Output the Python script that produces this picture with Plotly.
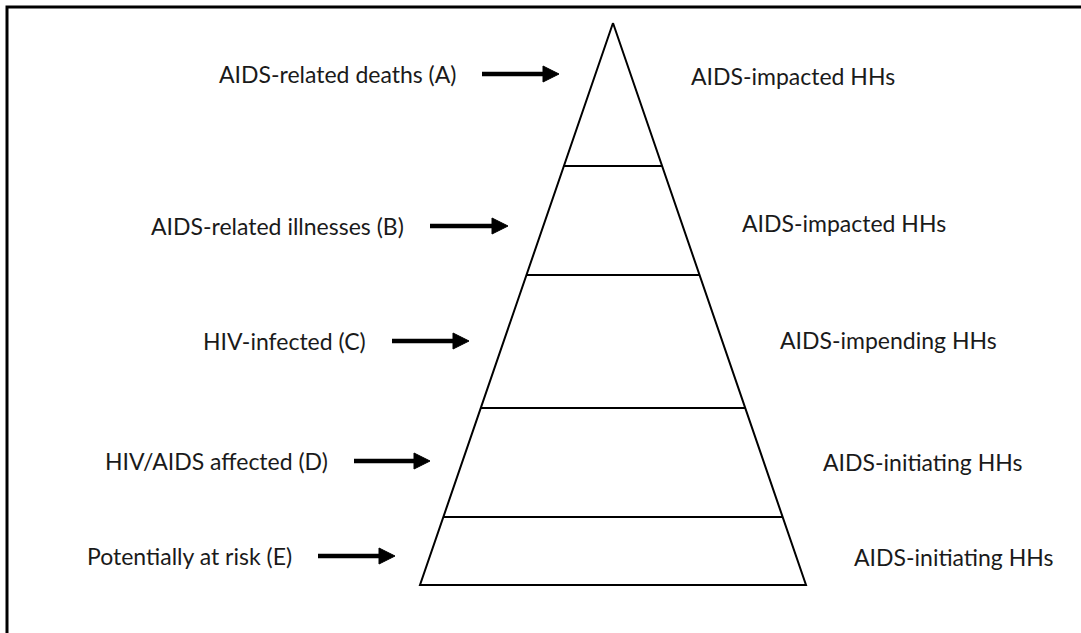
import plotly.graph_objects as go

# ---- data ----
levels = ["AIDS-related deaths (A)", "AIDS-related illnesses (B)", "HIV-infected (C)",
          "HIV/AIDS affected (D)", "Potentially at risk (E)"]
household_types = ["AIDS-impacted HHs", "AIDS-impacted HHs", "AIDS-impending HHs",
                   "AIDS-initiating HHs", "AIDS-initiating HHs"]
level_y = [74, 226, 341, 461, 556]
arrow_start_x = [482, 430, 392, 354, 318]
arrow_end_x = [559, 508, 469, 430, 395]
right_label_x = [689, 740, 778, 821, 852]
right_label_y = [76, 223, 340, 462, 557]
band_bounds_y = [166, 275, 408, 517]
apex = (613, 23)
base_y = 585
base_half_width = 193

W, H = 1081, 633
FONT = "Lato, 'Noto Sans', sans-serif"
FS = 23

fig = go.Figure()

def edge_x(y):
    hw = (y - apex[1]) / (base_y - apex[1]) * base_half_width
    return apex[0] - hw, apex[0] + hw

# triangle
bl, br = edge_x(base_y)
fig.add_trace(go.Scatter(x=[apex[0], br, bl, apex[0]], y=[apex[1], base_y, base_y, apex[1]],
                         mode="lines", line=dict(color="black", width=2),
                         hoverinfo="skip", showlegend=False))
shapes = []
for y in band_bounds_y:
    xl, xr = edge_x(y)
    shapes.append(dict(type="line", xref="x", yref="y", x0=xl, x1=xr, y0=y, y1=y,
                       line=dict(color="black", width=2)))

# border
shapes.append(dict(type="rect", xref="x", yref="y", x0=7, x1=W + 20, y0=7, y1=H + 20,
                   line=dict(color="black", width=3), fillcolor="rgba(0,0,0,0)"))

annotations = []
for lab, y, xs, xe in zip(levels, level_y, arrow_start_x, arrow_end_x):
    shapes.append(dict(type="line", xref="x", yref="y", x0=xs, x1=xe - 12, y0=y, y1=y,
                       line=dict(color="black", width=4.5)))
    shapes.append(dict(type="path", xref="x", yref="y",
                       path=f"M {xe} {y} L {xe-16} {y-8} L {xe-16} {y+8} Z",
                       fillcolor="black", line=dict(color="black", width=1)))
    annotations.append(dict(x=xs - 24, y=y, xref="x", yref="y", text=lab, showarrow=False,
                            xanchor="right", yanchor="middle",
                            font=dict(family=FONT, size=FS, color="#1a1a1a")))

for lab, x, y in zip(household_types, right_label_x, right_label_y):
    annotations.append(dict(x=x, y=y, xref="x", yref="y", text=lab, showarrow=False,
                            xanchor="left", yanchor="middle",
                            font=dict(family=FONT, size=FS, color="#1a1a1a")))

fig.update_layout(
    width=W, height=H, margin=dict(l=0, r=0, t=0, b=0),
    paper_bgcolor="white", plot_bgcolor="white",
    xaxis=dict(range=[0, W], visible=False, fixedrange=True),
    yaxis=dict(range=[H, 0], visible=False, fixedrange=True),
    shapes=shapes, annotations=annotations, showlegend=False,
)
fig.write_html("out.html", config={"displayModeBar": False, "staticPlot": True},
               post_script="document.body.style.margin='0';document.body.style.overflow='hidden';")
